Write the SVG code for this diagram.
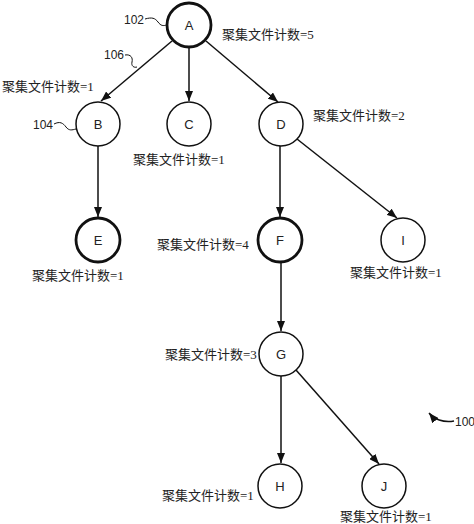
<svg xmlns="http://www.w3.org/2000/svg" width="474" height="524" viewBox="0 0 474 524">
<defs>
<marker id="ah" viewBox="0 0 10 8" refX="10" refY="4" markerWidth="10" markerHeight="8" markerUnits="userSpaceOnUse" orient="auto">
<path d="M0,0 L10,4 L0,8 Z" fill="#111"/>
</marker>
</defs>
<style>
.n{fill:#fff;stroke:#111;stroke-width:1.5}
.t{stroke-width:2.8}
.l{font-family:"Liberation Sans",Arial,sans-serif;font-size:13px;fill:#222;text-anchor:middle}
.c{font-family:"Liberation Serif","Noto Sans CJK SC",serif;font-size:13px;fill:#222}
.r{font-family:"Liberation Sans",Arial,sans-serif;font-size:12px;fill:#222}
.e{stroke:#111;stroke-width:1.5;fill:none}
.ld{stroke:#111;stroke-width:1;fill:none}
</style>
<rect width="474" height="524" fill="#fff"/>
<g id="connectors">
<line class="e" x1="172" y1="41" x2="101" y2="101" marker-end="url(#ah)"/>
<line class="e" x1="189" y1="47" x2="189" y2="101" marker-end="url(#ah)"/>
<line class="e" x1="206" y1="41" x2="278" y2="102" marker-end="url(#ah)"/>
<line class="e" x1="98" y1="146" x2="98" y2="217" marker-end="url(#ah)"/>
<line class="e" x1="280" y1="146" x2="280" y2="217" marker-end="url(#ah)"/>
<line class="e" x1="297" y1="139" x2="397" y2="218" marker-end="url(#ah)"/>
<line class="e" x1="281" y1="263" x2="281" y2="331" marker-end="url(#ah)"/>
<line class="e" x1="281" y1="376" x2="281" y2="463" marker-end="url(#ah)"/>
<line class="e" x1="296" y1="370" x2="379" y2="464" marker-end="url(#ah)"/>
</g>
<g id="A"><circle class="n t" cx="189" cy="25" r="22"/><text class="l" x="189" y="30">A</text></g>
<g id="B"><circle class="n" cx="98" cy="124" r="22"/><text class="l" x="98" y="129">B</text></g>
<g id="C"><circle class="n" cx="189" cy="124" r="22"/><text class="l" x="189" y="129">C</text></g>
<g id="D"><circle class="n" cx="281" cy="124" r="22"/><text class="l" x="281" y="129">D</text></g>
<g id="E"><circle class="n t" cx="98" cy="240" r="22"/><text class="l" x="98" y="245">E</text></g>
<g id="F"><circle class="n t" cx="280" cy="240" r="22"/><text class="l" x="280" y="245">F</text></g>
<g id="I"><circle class="n" cx="403" cy="240" r="22"/><text class="l" x="403" y="245">I</text></g>
<g id="G"><circle class="n" cx="281" cy="354" r="22"/><text class="l" x="281" y="359">G</text></g>
<g id="H"><circle class="n" cx="280" cy="486" r="22"/><text class="l" x="280" y="491">H</text></g>
<g id="J"><circle class="n" cx="384" cy="486" r="22"/><text class="l" x="384" y="491">J</text></g>
<g id="labels">
<text class="c" x="222" y="39">聚集文件计数=5</text>
<text class="c" x="2" y="91">聚集文件计数=1</text>
<text class="c" x="133" y="164">聚集文件计数=1</text>
<text class="c" x="313" y="120">聚集文件计数=2</text>
<text class="c" x="32" y="280">聚集文件计数=1</text>
<text class="c" x="157" y="249">聚集文件计数=4</text>
<text class="c" x="350" y="277">聚集文件计数=1</text>
<text class="c" x="165" y="359">聚集文件计数=3</text>
<text class="c" x="162" y="500">聚集文件计数=1</text>
<text class="c" x="340" y="521">聚集文件计数=1</text>
</g>
<g id="refs">
<text class="r" x="124" y="24">102</text>
<path class="ld" d="M145,19 C152,17 155,18 158,22 C161,26 163,26 167,25"/>
<text class="r" x="104" y="59">106</text>
<path class="ld" d="M125,55 C131,54 133,58 132,62 C131,66 134,68 137,67"/>
<text class="r" x="33" y="129">104</text>
<path class="ld" d="M54,124 C60,121 63,123 66,127 C69,131 72,130 76,129"/>
<text class="r" x="455" y="426">100</text>
<path class="e" d="M454,421 C443,423 434,419 429,413" marker-end="url(#ah)"/>
</g>
</svg>
